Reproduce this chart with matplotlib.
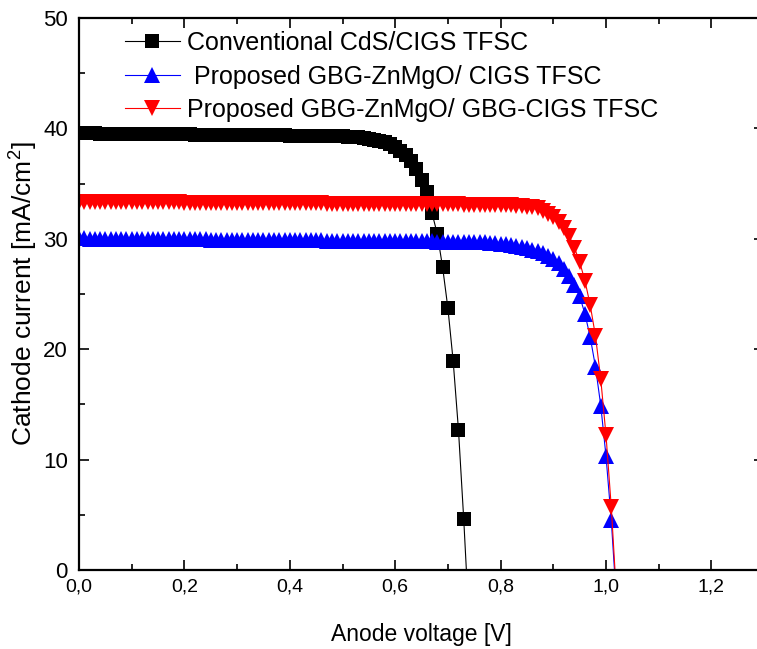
import matplotlib
matplotlib.use('Agg')
import matplotlib.pyplot as plt
from matplotlib.ticker import MultipleLocator

plt.rcParams['font.family'] = ['Liberation Sans', 'DejaVu Sans']
plt.rcParams['mathtext.fontset'] = 'custom'
plt.rcParams['mathtext.rm'] = 'Liberation Sans'
plt.rcParams['mathtext.it'] = 'Liberation Sans'

# voltage sweep points (V)
voltage = [
    0.00, 0.01, 0.02, 0.03, 0.04, 0.05, 0.06, 0.07, 0.08, 0.09,
    0.10, 0.11, 0.12, 0.13, 0.14, 0.15, 0.16, 0.17, 0.18, 0.19,
    0.20, 0.21, 0.22, 0.23, 0.24, 0.25, 0.26, 0.27, 0.28, 0.29,
    0.30, 0.31, 0.32, 0.33, 0.34, 0.35, 0.36, 0.37, 0.38, 0.39,
    0.40, 0.41, 0.42, 0.43, 0.44, 0.45, 0.46, 0.47, 0.48, 0.49,
    0.50, 0.51, 0.52, 0.53, 0.54, 0.55, 0.56, 0.57, 0.58, 0.59,
    0.60, 0.61, 0.62, 0.63, 0.64, 0.65, 0.66, 0.67, 0.68, 0.69,
    0.70, 0.71, 0.72, 0.73, 0.74, 0.75, 0.76, 0.77, 0.78, 0.79,
    0.80, 0.81, 0.82, 0.83, 0.84, 0.85, 0.86, 0.87, 0.88, 0.89,
    0.90, 0.91, 0.92, 0.93, 0.94, 0.95, 0.96, 0.97, 0.98, 0.99,
    1.00, 1.01,
]

# current density (mA/cm2)
j_cds_cigs = [
    39.55, 39.55, 39.54, 39.54, 39.53, 39.53, 39.52, 39.52, 39.51, 39.51,
    39.50, 39.50, 39.49, 39.49, 39.48, 39.48, 39.47, 39.47, 39.46, 39.46,
    39.45, 39.45, 39.44, 39.44, 39.43, 39.43, 39.42, 39.42, 39.41, 39.41,
    39.40, 39.40, 39.39, 39.39, 39.38, 39.38, 39.37, 39.37, 39.36, 39.36,
    39.35, 39.35, 39.34, 39.34, 39.33, 39.33, 39.32, 39.31, 39.30, 39.29,
    39.28, 39.25, 39.22, 39.18, 39.13, 39.07, 38.99, 38.89, 38.75, 38.56,
    38.30, 37.97, 37.55, 37.02, 36.30, 35.35, 34.20, 32.30, 30.40, 27.40,
    23.70, 18.90, 12.70, 4.60,
]

j_znmgo_cigs = [
    30.03, 30.03, 30.02, 30.02, 30.02, 30.01, 30.01, 30.00, 30.00, 30.00,
    29.99, 29.99, 29.98, 29.98, 29.98, 29.97, 29.97, 29.96, 29.96, 29.96,
    29.95, 29.95, 29.94, 29.94, 29.94, 29.93, 29.93, 29.92, 29.92, 29.92,
    29.91, 29.91, 29.90, 29.90, 29.90, 29.89, 29.89, 29.88, 29.88, 29.88,
    29.87, 29.87, 29.86, 29.86, 29.86, 29.85, 29.85, 29.84, 29.84, 29.84,
    29.83, 29.83, 29.82, 29.82, 29.82, 29.81, 29.81, 29.80, 29.80, 29.80,
    29.79, 29.79, 29.78, 29.78, 29.77, 29.77, 29.76, 29.76, 29.75, 29.75,
    29.74, 29.74, 29.73, 29.73, 29.72, 29.72, 29.71, 29.69, 29.66, 29.62,
    29.57, 29.51, 29.44, 29.36, 29.27, 29.16, 29.03, 28.87, 28.67, 28.43,
    28.13, 27.77, 27.30, 26.65, 25.85, 24.80, 23.20, 21.10, 18.40, 14.90,
    10.30, 4.50,
]

j_znmgo_gbg = [
    33.35, 33.35, 33.34, 33.34, 33.34, 33.33, 33.33, 33.33, 33.32, 33.32,
    33.32, 33.31, 33.31, 33.31, 33.30, 33.30, 33.30, 33.29, 33.29, 33.29,
    33.28, 33.28, 33.28, 33.27, 33.27, 33.27, 33.26, 33.26, 33.26, 33.25,
    33.25, 33.25, 33.24, 33.24, 33.24, 33.23, 33.23, 33.23, 33.22, 33.22,
    33.22, 33.21, 33.21, 33.21, 33.20, 33.20, 33.20, 33.19, 33.19, 33.19,
    33.18, 33.18, 33.18, 33.17, 33.17, 33.17, 33.16, 33.16, 33.16, 33.15,
    33.15, 33.15, 33.14, 33.14, 33.14, 33.13, 33.13, 33.13, 33.12, 33.12,
    33.12, 33.11, 33.11, 33.10, 33.10, 33.09, 33.09, 33.08, 33.07, 33.06,
    33.05, 33.04, 33.02, 33.00, 32.97, 32.92, 32.85, 32.75, 32.50, 32.25,
    31.95, 31.55, 31.00, 30.25, 29.20, 27.90, 26.20, 24.00, 21.20, 17.30,
    12.20, 5.70,
]

# open-circuit voltages where each curve reaches zero current
voc = [0.735, 1.016, 1.017]

labels = [
    'Conventional CdS/CIGS TFSC',
    ' Proposed GBG-ZnMgO/ CIGS TFSC',
    'Proposed GBG-ZnMgO/ GBG-CIGS TFSC',
]
colors = ['black', 'blue', 'red']
markers = ['s', '^', 'v']
xticks = [0.0, 0.2, 0.4, 0.6, 0.8, 1.0, 1.2]

fig = plt.figure(figsize=(7.57, 6.49), dpi=100)
ax = fig.add_axes([0.1044, 0.1217, 0.905, 0.8506])

series = [j_cds_cigs, j_znmgo_cigs, j_znmgo_gbg]
for j, v0, lab, c, m in zip(series, voc, labels, colors, markers):
    x = voltage[:len(j)] + [v0]
    y = j + [0.0]
    ax.plot(x, y, color=c, lw=0.8, marker=m, markersize=10.5 if m == 's' else 11,
            markeredgewidth=0, markevery=list(range(len(j))), label=lab)

ax.set_xlim(0, 1.3)
ax.set_ylim(0, 50)
ax.set_xticks(xticks)
ax.set_xticklabels([('%.1f' % t).replace('.', ',') for t in xticks], fontsize=14)
ax.xaxis.set_minor_locator(MultipleLocator(0.1))
ax.yaxis.set_major_locator(MultipleLocator(10))
ax.yaxis.set_minor_locator(MultipleLocator(5))

ax.tick_params(which='both', direction='in', top=True, right=True, width=1.2)
ax.tick_params(which='major', length=7)
ax.tick_params(which='minor', length=4)
ax.tick_params(axis='x', which='major', pad=6)
ax.tick_params(axis='y', which='major', labelsize=16, pad=8)
for s in ax.spines.values():
    s.set_linewidth(1.6)

ax.set_xlabel('Anode voltage [V]', fontsize=16.5, labelpad=20)
ax.set_ylabel('Cathode current [mA/cm$^{2}$]', fontsize=19, labelpad=2)

ax.legend(loc='upper left', bbox_to_anchor=(0.067, 0.976), frameon=False,
          fontsize=18, numpoints=1, handlelength=2.2, handletextpad=0.3,
          labelspacing=0.38, borderpad=0, borderaxespad=0)

fig.savefig('out.png', dpi=100)
